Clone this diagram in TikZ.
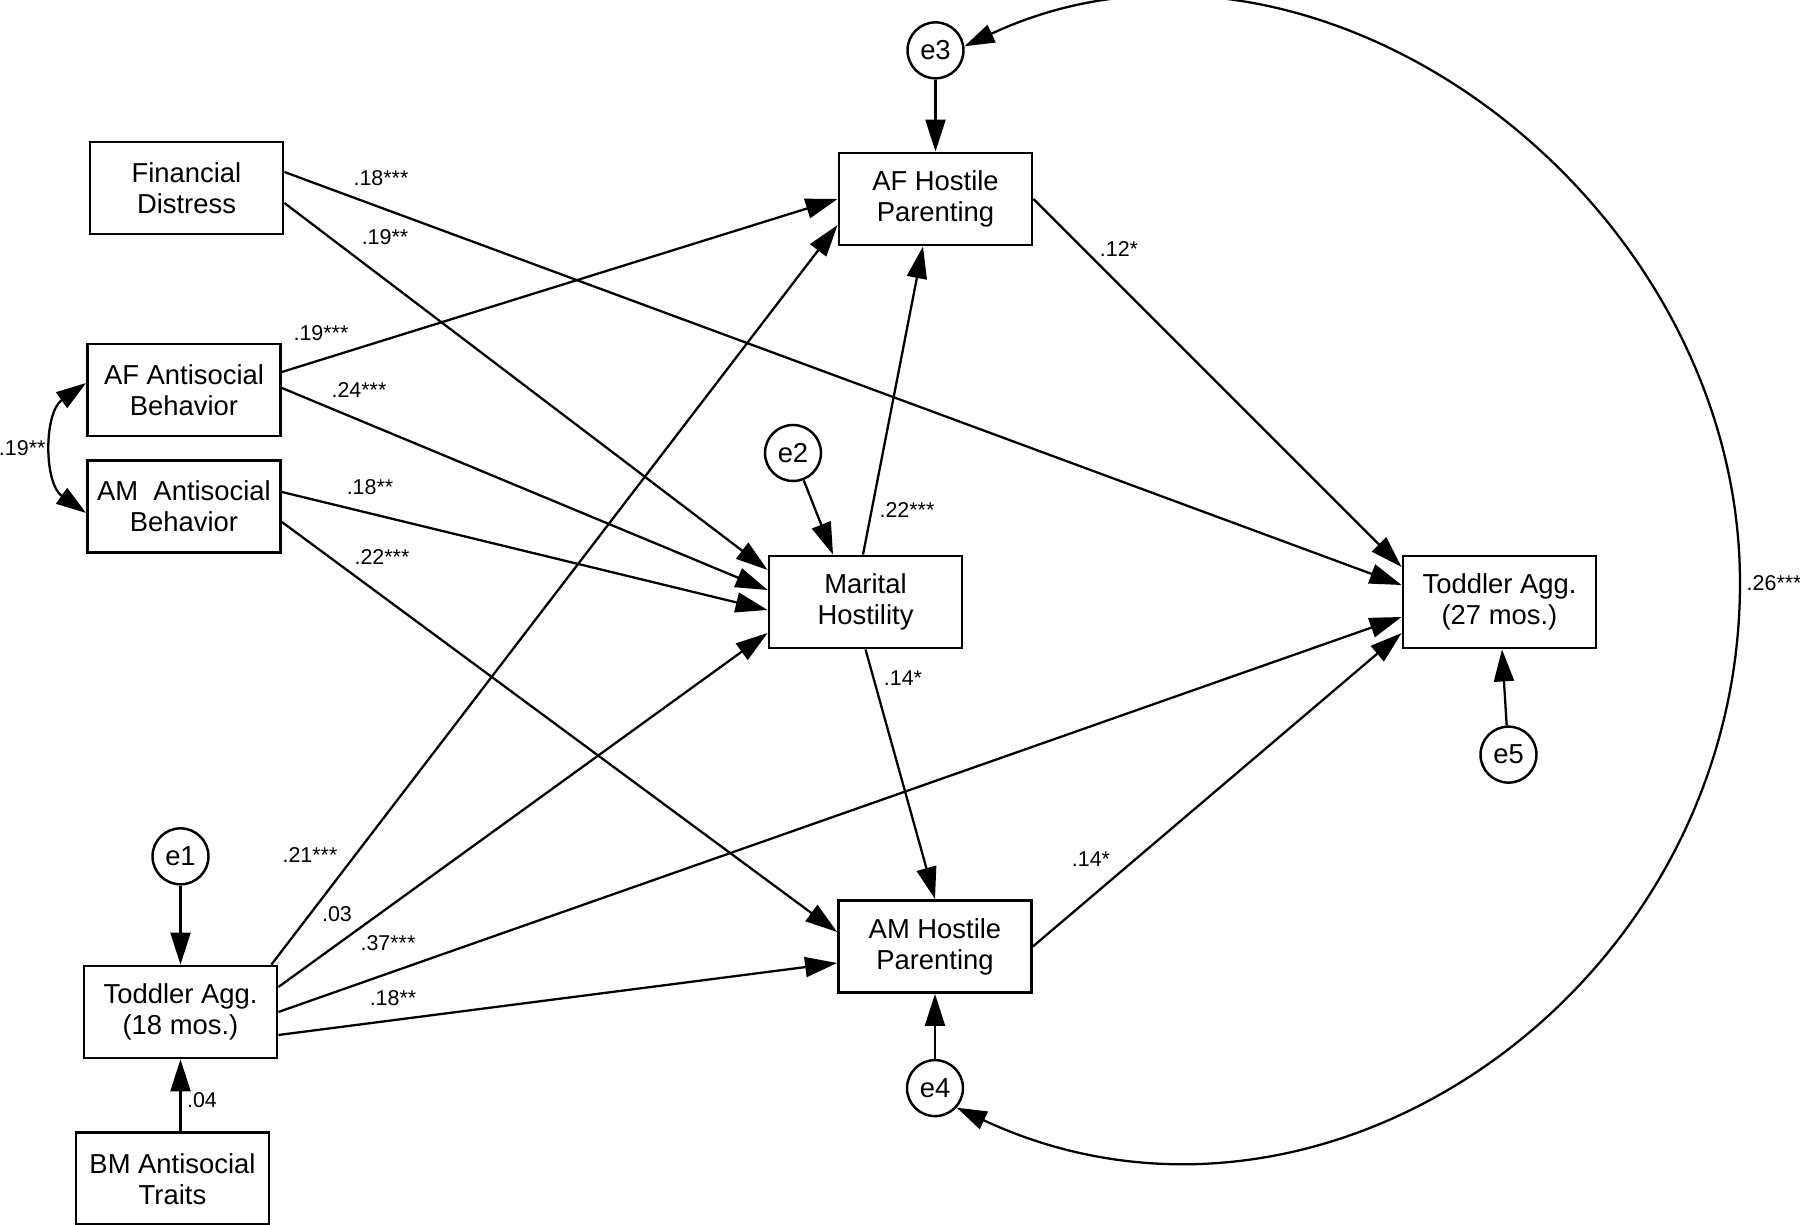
\documentclass[tikz,border=0pt]{standalone}
\usepackage{fontspec}
\setmainfont{Liberation Sans}
\usetikzlibrary{arrows.meta, positioning}
\tikzset{
  var/.style={
    rectangle, draw=black, line width=0.8pt,
    minimum width=1.93cm, minimum height=0.92cm, inner sep=1pt,
    align=center, font=\fontsize{7.8}{8.8}\selectfont
  },
  err/.style={circle, draw=black, line width=0.7pt, minimum size=0.56cm,
              inner sep=0pt, font=\fontsize{7.8}{8.8}\selectfont},
  coef/.style={inner sep=0pt, font=\fontsize{6.1}{7}\selectfont},
  effect/.style={-{Triangle[length=3.2mm,width=2mm]}, line width=0.65pt},
  covar/.style={{Triangle[length=3mm,width=1.9mm]}-{Triangle[length=3mm,width=1.9mm]},
                line width=0.65pt},
}

\begin{document}
\begin{tikzpicture}
  \useasboundingbox (0,0) rectangle (18,-12.25);

  % observed variables
  \node[var] (fd)  at (1.865,-1.88)  {Financial\\Distress};
  \node[var] (afa) at (1.84,-3.90)   {AF Antisocial\\Behavior};
  \node[var] (ama) at (1.84,-5.065)  {AM\ \ Antisocial\\Behavior};
  \node[var] (t18) at (1.805,-10.12) {Toddler Agg.\\(18 mos.)};
  \node[var, below=0.72cm of t18, xshift=-0.8mm] (bm) {BM Antisocial\\Traits};
  \node[var] (afh) at (9.355,-1.99)  {AF Hostile\\Parenting};
  \node[var] (mh)  at (8.655,-6.02)  {Marital\\Hostility};
  \node[var] (amh) at (9.35,-9.465)  {AM Hostile\\Parenting};
  \node[var] (t27) at (14.995,-6.02) {Toddler Agg.\\(27 mos.)};

  % residuals
  \node[err, above=0.79cm of t18] (e1) {e1};
  \node[err] (e2) at (7.93,-4.53) {e2};
  \node[err, above=0.72cm of afh] (e3) {e3};
  \node[err, below=0.65cm of amh] (e4) {e4};
  \node[err, below=0.76cm of t27, xshift=0.9mm] (e5) {e5};

  % direct paths
  \draw[effect] ([yshift=1.6mm]fd.east) -- ([yshift=1.7mm]t27.west);
  \draw[effect] ([yshift=-1.5mm]fd.east) -- ([yshift=3.2mm]mh.west);
  \draw[effect] ([yshift=1.8mm]afa.east) -- (afh.west);
  \draw[effect] ([yshift=0.2mm]afa.east) -- ([yshift=1.2mm]mh.west);
  \draw[effect] ([yshift=1.45mm]ama.east) -- ([yshift=-0.8mm]mh.west);
  \draw[effect] ([yshift=-1.55mm]ama.east) -- ([yshift=1.45mm]amh.west);
  \draw[effect] ([xshift=-0.7mm]t18.north east) -- ([yshift=-2.6mm]afh.west);
  \draw[effect] ([yshift=2.5mm]t18.east) -- ([yshift=-3.1mm]mh.west);
  \draw[effect] (t18.east) -- ([yshift=-1.5mm]t27.west);
  \draw[effect] ([yshift=-2.3mm]t18.east) -- ([yshift=-1.65mm]amh.west);
  \draw[effect] ([xshift=-0.25mm]mh.north) -- ([xshift=-1.25mm]afh.south);
  \draw[effect] (mh.south) -- (amh.north);
  \draw[effect] (afh.east) -- ([yshift=3.5mm]t27.west);
  \draw[effect] (amh.east) -- ([yshift=-3.1mm]t27.west);
  \draw[effect] (bm.north -| t18.south) -- (t18.south);

  % residual paths
  \draw[effect] (e1) -- (t18.north);
  \draw[effect] (e2) -- ([xshift=-3.25mm]mh.north);
  \draw[effect] (e3) -- (afh.north);
  \draw[effect] (e4) -- (amh.south);
  \draw[effect] (e5) -- ([xshift=0.25mm]t27.south);

  % covariances
  \draw[covar] ([yshift=0.7mm]afa.west) to[out=215, in=145, looseness=1.02]
    node[coef, left=2.2pt] (c19) {.19**} ([yshift=-0.65mm]ama.west);
  \coordinate (arcR) at (17.40,-5.83);
  \draw[covar] (e3.8) to[out=25, in=90, looseness=1.05] (arcR)
    to[out=-90, in=-25, looseness=1.1] (e4.-42);
  \node[coef, right=0.6mm of arcR] (c26) {.26***};

  % coefficients
  \node[coef] (cfdt) at (3.81,-1.78)  {.18***};
  \node[coef] (cfdm) at (3.85,-2.37)  {.19**};
  \node[coef] (cafh) at (3.21,-3.33)  {.19***};
  \node[coef] (cafm) at (3.59,-3.90)  {.24***};
  \node[coef] (camm) at (3.70,-4.87)  {.18**};
  \node[coef] (camh) at (3.82,-5.57)  {.22***};
  \node[coef] (ctaf) at (3.10,-8.55)  {.21***};
  \node[coef] (ctmh) at (3.37,-9.14)  {.03};
  \node[coef] (ctt)  at (3.88,-9.43)  {.37***};
  \node[coef] (ctam) at (3.93,-9.98)  {.18**};
  \node[coef] (cmaf) at (9.07,-5.10)  {.22***};
  \node[coef] (cmam) at (9.03,-6.78)  {.14*};
  \node[coef] (caft) at (11.19,-2.49) {.12*};
  \node[coef] (camt) at (10.91,-8.59) {.14*};
  \node[coef] (cbm)  at (2.02,-11.00) {.04};
\end{tikzpicture}
\end{document}
